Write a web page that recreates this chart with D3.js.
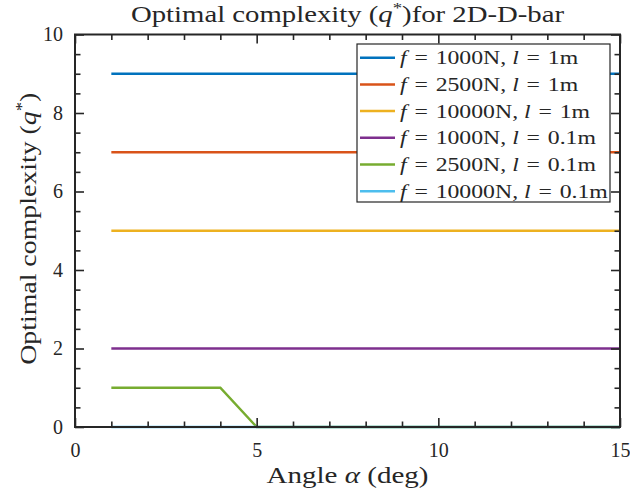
<!DOCTYPE html>
<html>
<head>
<meta charset="utf-8">
<script src="https://cdn.jsdelivr.net/npm/d3@7"></script>
<style>
  html, body { margin: 0; padding: 0; background: #fff; }
  svg { display: block; }
  text { font-family: "Liberation Serif", "Times New Roman", serif; fill: #262626; }
</style>
</head>
<body>
<svg id="chart" width="630" height="494"></svg>
<script>
// ---- data ----
const angles = [1, 2, 3, 4, 5, 6, 7, 8, 9, 10, 11, 12, 13, 14, 15];
const f1000_l1   = [9, 9, 9, 9, 9, 9, 9, 9, 9, 9, 9, 9, 9, 9, 9];
const f2500_l1   = [7, 7, 7, 7, 7, 7, 7, 7, 7, 7, 7, 7, 7, 7, 7];
const f10000_l1  = [5, 5, 5, 5, 5, 5, 5, 5, 5, 5, 5, 5, 5, 5, 5];
const f1000_l01  = [2, 2, 2, 2, 2, 2, 2, 2, 2, 2, 2, 2, 2, 2, 2];
const f2500_l01  = [1, 1, 1, 1, 0, 0, 0, 0, 0, 0, 0, 0, 0, 0, 0];
const f10000_l01 = [0, 0, 0, 0, 0, 0, 0, 0, 0, 0, 0, 0, 0, 0, 0];
const seriesForce = ["1000", "2500", "10000", "1000", "2500", "10000"];
const seriesLength = ["1", "1", "1", "0.1", "0.1", "0.1"];
const seriesColors = ["#0072BD", "#D95319", "#EDB120", "#7E2F8E", "#77AC30", "#4DBEEE"];
const xMajorTicks = [0, 5, 10, 15];
const xMinorTicks = [1, 2, 3, 4, 6, 7, 8, 9, 11, 12, 13, 14];
const yMajorTicks = [0, 2, 4, 6, 8, 10];
const yMinorTicks = [0.5, 1, 1.5, 2.5, 3, 3.5, 4.5, 5, 5.5, 6.5, 7, 7.5, 8.5, 9, 9.5];

const seriesValues = [f1000_l1, f2500_l1, f10000_l1, f1000_l01, f2500_l01, f10000_l01];

// ---- layout ----
const svg = d3.select("#chart");
const L = 75, R = 620, T = 34.5, B = 427;
const x = d3.scaleLinear().domain([0, 15]).range([L, R]);
const y = d3.scaleLinear().domain([0, 10]).range([B, T]);
const axisColor = "#262626";
const majorLen = 9, minorLen = 5.5;

// data lines
const line = d3.line().x((d, i) => x(angles[i])).y(d => y(d));
seriesValues.forEach((vals, k) => {
  svg.append("path").datum(vals)
    .attr("d", line)
    .attr("fill", "none")
    .attr("stroke", seriesColors[k])
    .attr("stroke-width", 2.5);
});

// axes (inward ticks on all sides)
function addAxis(axisGen, tx, ty, tickVals, len) {
  const g = svg.append("g").attr("transform", `translate(${tx},${ty})`)
    .call(axisGen.tickValues(tickVals).tickSize(len).tickFormat(""));
  g.select(".domain").remove();
  g.selectAll(".tick line").attr("stroke", axisColor).attr("stroke-width", 1.6);
  return g;
}
addAxis(d3.axisTop(x), 0, B, xMajorTicks, majorLen);
addAxis(d3.axisTop(x), 0, B, xMinorTicks, minorLen);
addAxis(d3.axisBottom(x), 0, T, xMajorTicks, majorLen);
addAxis(d3.axisBottom(x), 0, T, xMinorTicks, minorLen);
addAxis(d3.axisRight(y), L, 0, yMajorTicks, majorLen);
addAxis(d3.axisRight(y), L, 0, yMinorTicks, minorLen);
addAxis(d3.axisLeft(y), R, 0, yMajorTicks, majorLen);
addAxis(d3.axisLeft(y), R, 0, yMinorTicks, minorLen);

// box
svg.append("rect").attr("x", L).attr("y", T).attr("width", R - L).attr("height", B - T)
  .attr("fill", "none").attr("stroke", axisColor).attr("stroke-width", 2);

// tick labels
const xLab = d3.axisBottom(x).tickValues(xMajorTicks).tickSize(0).tickPadding(16).tickFormat(d3.format("d"));
const gx = svg.append("g").attr("transform", `translate(0,${B})`).call(xLab);
gx.select(".domain").remove();
gx.selectAll("text").attr("font-size", 20).attr("font-family", "Liberation Serif").attr("fill", axisColor);

const yLab = d3.axisLeft(y).tickValues(yMajorTicks).tickSize(0).tickPadding(12).tickFormat(d3.format("d"));
const gy = svg.append("g").attr("transform", `translate(${L},0)`).call(yLab);
gy.select(".domain").remove();
gy.selectAll("text").attr("font-size", 20).attr("font-family", "Liberation Serif").attr("fill", axisColor);

// title
const title = svg.append("text").attr("transform", `translate(${(L + R) / 2},22) scale(1.25,1)`)
  .attr("text-anchor", "middle").attr("font-size", 23);
title.append("tspan").text("Optimal complexity (");
title.append("tspan").attr("font-style", "italic").text("q");
title.append("tspan").attr("font-size", 15).attr("dy", -9).text("*");
title.append("tspan").attr("dy", 9).text(")for 2D-D-bar");

// x label
const xl = svg.append("text").attr("transform", `translate(${(L + R) / 2},483) scale(1.21,1)`)
  .attr("text-anchor", "middle").attr("font-size", 24);
xl.append("tspan").text("Angle ");
xl.append("tspan").attr("font-style", "italic").text("α");
xl.append("tspan").text(" (deg)");

// y label
const yl = svg.append("text").attr("transform", `translate(36,${(T + B) / 2 - 2}) rotate(-90) scale(1.16,1)`)
  .attr("text-anchor", "middle").attr("font-size", 24);
yl.append("tspan").text("Optimal complexity (");
yl.append("tspan").attr("font-style", "italic").text("q");
yl.append("tspan").attr("font-size", 16).attr("dy", -9).text("*");
yl.append("tspan").attr("dy", 9).text(")");

// legend
const lg = svg.append("g");
const lgX = 357, lgY = 44, lgW = 253, lgH = 158, rowH = 26.7;
lg.append("rect").attr("x", lgX).attr("y", lgY).attr("width", lgW).attr("height", lgH)
  .attr("fill", "#fff").attr("stroke", axisColor).attr("stroke-width", 1.2);
seriesColors.forEach((c, i) => {
  const cy = lgY + 13.7 + i * rowH;
  lg.append("line").attr("x1", lgX + 3).attr("x2", lgX + 38).attr("y1", cy).attr("y2", cy)
    .attr("stroke", c).attr("stroke-width", 2.5);
  const t = lg.append("text").attr("transform", `translate(${lgX + 43},${cy + 6.5}) scale(1.25,1)`)
    .attr("font-size", 19);
  t.append("tspan").attr("font-style", "italic").text("f");
  t.append("tspan").attr("dx", 1.5).text(" =");
  t.append("tspan").attr("dx", 1.5).text(` ${seriesForce[i]}N, `);
  t.append("tspan").attr("font-style", "italic").text("l");
  t.append("tspan").attr("dx", 1.5).text(" =");
  t.append("tspan").attr("dx", 1.5).text(` ${seriesLength[i]}m`);
});
</script>
</body>
</html>
